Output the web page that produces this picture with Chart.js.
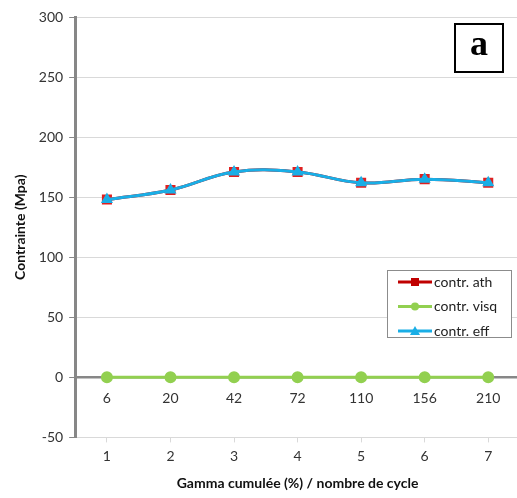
<!DOCTYPE html>
<html lang="fr">
<head>
<meta charset="UTF-8">
<title>Contrainte</title>
<script src="https://cdn.jsdelivr.net/npm/chart.js"></script>
<style>
  html, body { margin: 0; padding: 0; background: #fff; overflow: hidden; }
  #wrap { width: 528px; height: 498px; }
</style>
</head>
<body>
<div id="wrap"><canvas id="chart"></canvas></div>
<script>
const steps = ['1', '2', '3', '4', '5', '6', '7'];
const cycles = ['6', '20', '42', '72', '110', '156', '210'];
const contrAth = [148, 156, 171, 171, 162, 165, 162];
const contrVisq = [0, 0, 0, 0, 0, 0, 0];
const contrEff = [148, 156, 171, 171, 162, 165, 162];

const tickFont = { family: 'Lato, "Open Sans", sans-serif', size: 14 };
const axisGrey = '#878787';
const gridGrey = '#d9d9d9';

// legend box + the "a" panel tag, drawn over the plot
const overlay = {
  id: 'overlay',
  afterDraw(chart) {
    const ctx = chart.ctx;
    const area = chart.chartArea;
    ctx.save();

    // panel tag
    const bx = 455, by = area.top + 7;
    ctx.fillStyle = '#fff';
    ctx.fillRect(bx, by, 48, 48);
    ctx.strokeStyle = '#000';
    ctx.lineWidth = 2;
    ctx.strokeRect(bx, by, 48, 48);
    ctx.fillStyle = '#000';
    ctx.font = 'bold 36px "Liberation Serif", serif';
    ctx.textAlign = 'center';
    ctx.textBaseline = 'middle';
    ctx.fillText('a', bx + 24, by + 22);

    // legend
    const lx = 387, ly = area.top + 253;
    ctx.fillStyle = '#fff';
    ctx.fillRect(lx, ly, 124, 67);
    ctx.strokeStyle = '#8c8c8c';
    ctx.lineWidth = 1;
    ctx.strokeRect(lx + 0.5, ly + 0.5, 124, 67);
    ctx.font = '14px Lato, "Open Sans", sans-serif';
    ctx.textAlign = 'left';
    chart.data.datasets.forEach((ds, i) => {
      const y = ly + 12 + i * 24.5;
      const x0 = lx + 11, x1 = lx + 45;
      ctx.strokeStyle = ds.borderColor;
      ctx.lineWidth = 3;
      ctx.beginPath();
      ctx.moveTo(x0, y);
      ctx.lineTo(x1, y);
      ctx.stroke();
      const cx = (x0 + x1) / 2;
      ctx.fillStyle = ds.pointBackgroundColor;
      ctx.beginPath();
      if (ds.pointStyle === 'rect') {
        ctx.rect(cx - 4, y - 4, 8, 8);
      } else if (ds.pointStyle === 'triangle') {
        ctx.moveTo(cx, y - 5);
        ctx.lineTo(cx + 5, y + 4);
        ctx.lineTo(cx - 5, y + 4);
        ctx.closePath();
      } else {
        ctx.arc(cx, y, 4, 0, Math.PI * 2);
      }
      ctx.fill();
      ctx.fillStyle = '#222';
      ctx.fillText(ds.label, x1 + 2, y);
    });
    ctx.restore();
  }
};

new Chart(document.getElementById('chart'), {
  type: 'line',
  data: {
    labels: steps,
    datasets: [
      {
        label: 'contr. ath',
        data: contrAth,
        borderColor: '#c00000',
        backgroundColor: '#c00000',
        pointBackgroundColor: '#c00000',
        pointBorderColor: '#e02020',
        pointStyle: 'rect',
        pointRadius: 5,
        borderWidth: 3,
        tension: 0.4,
        order: 2
      },
      {
        label: 'contr. visq',
        data: contrVisq,
        borderColor: '#92d050',
        backgroundColor: '#92d050',
        pointBackgroundColor: '#92d050',
        pointBorderColor: '#92d050',
        pointStyle: 'circle',
        pointRadius: 4.5,
        borderWidth: 3,
        tension: 0.4,
        order: 3
      },
      {
        label: 'contr. eff',
        data: contrEff,
        borderColor: '#19aee6',
        backgroundColor: '#19aee6',
        pointBackgroundColor: '#19aee6',
        pointBorderColor: '#19aee6',
        pointStyle: 'triangle',
        pointRadius: 4,
        borderWidth: 3,
        tension: 0.4,
        order: 1
      }
    ]
  },
  options: {
    responsive: true,
    maintainAspectRatio: false,
    animation: false,
    layout: { padding: { top: 17, right: 0, left: 8, bottom: 2 } },
    plugins: { legend: { display: false }, tooltip: { enabled: false } },
    scales: {
      x: {
        type: 'category',
        position: 'bottom',
        offset: true,
        grid: { drawOnChartArea: false, tickLength: 5, color: gridGrey, offset: false },
        border: { display: true, color: gridGrey },
        ticks: { color: '#333', font: tickFont, padding: 6 },
        title: {
          display: true,
          text: 'Gamma cumulée (%) / nombre de cycle',
          color: '#111',
          font: { family: tickFont.family, size: 14, weight: 'bold' },
          padding: { top: 4 }
        }
      },
      x2: {
        type: 'category',
        labels: cycles,
        position: { y: 0 },
        offset: true,
        grid: { display: false },
        border: { display: true, color: axisGrey, width: 2.5 },
        ticks: { color: '#333', font: tickFont, padding: 5 }
      },
      y: {
        min: -50,
        max: 300,
        ticks: { stepSize: 50, color: '#333', font: tickFont, padding: 6 },
        grid: { color: gridGrey, tickColor: axisGrey, tickLength: 6 },
        border: { color: axisGrey, width: 3 },
        title: {
          display: true,
          text: 'Contrainte (Mpa)',
          color: '#111',
          font: { family: tickFont.family, size: 14, weight: 'bold' },
          padding: { bottom: 4 }
        }
      }
    }
  },
  plugins: [overlay]
});
</script>
</body>
</html>
